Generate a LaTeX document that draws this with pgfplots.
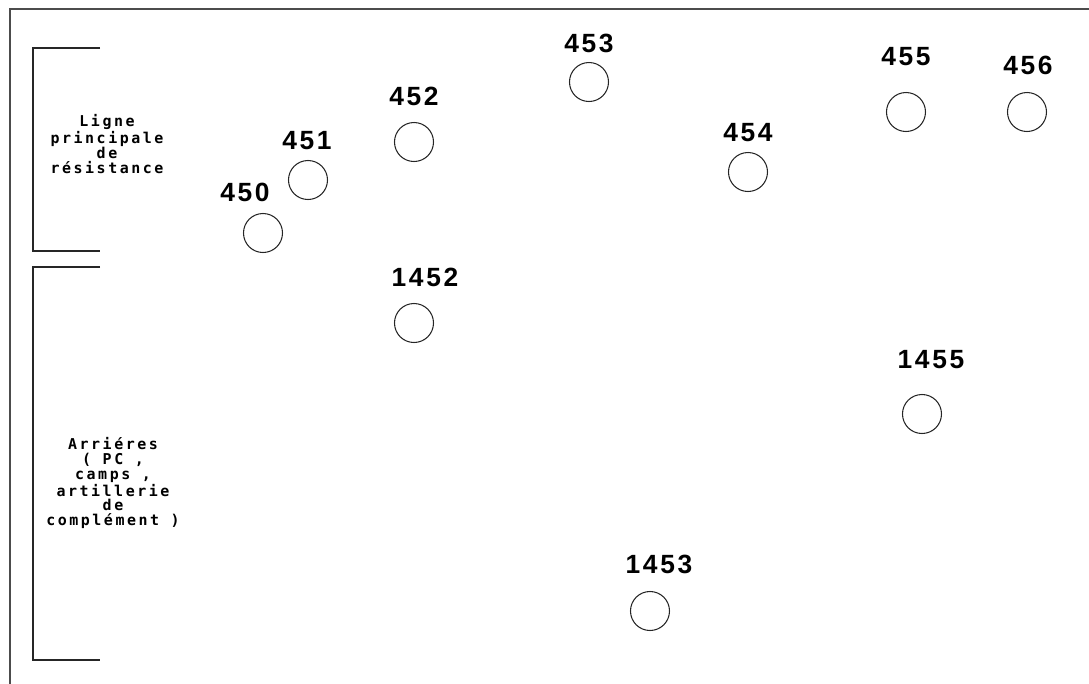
\documentclass[border=0pt]{standalone}
\usepackage{pgfplots}
\pgfplotsset{compat=1.18}
\usepackage{pgfplotstable}
\usepackage{fontspec}
\setmainfont{Liberation Sans}
\newfontfamily\numfont[LetterSpace=10]{Liberation Sans}
\newfontfamily\monofont[LetterSpace=17]{DejaVu Sans Mono}

\pgfplotstableread{
x y
263 233
308 180
414 142
589 82
748 172
906 112
1027 112
414 323
650 611
922 414
}\circles

\pgfplotstableread{
x y label
245 192 450
307 141 451
414 96 452
589 43 453
748 133 454
906 57 455
1028 65 456
425 277 1452
659 564 1453
931 360 1455
}\labels

\begin{document}
\begin{tikzpicture}
\begin{axis}[
  at={(0,0)}, anchor=south west,
  scale only axis, width=21.78cm, height=13.68cm,
  xmin=0, xmax=1089, ymin=0, ymax=684, y dir=reverse,
  hide axis, clip=false,
]
\addplot[only marks, mark=o, mark size=11.1pt, mark options={line width=0.6pt, draw=black!85}] table[x=x,y=y] {\circles};
\addplot[only marks, mark=none, nodes near coords, point meta=explicit symbolic,
  every node near coord/.append style={anchor=center, inner sep=0pt, font=\numfont\bfseries\fontsize{15}{17}\selectfont, text=black}]
  table[x=x,y=y,meta=label] {\labels};
% frame
\draw[black!70, line width=0.6pt] (axis cs:10,684) -- (axis cs:10,9) -- (axis cs:1089,9);
% brackets
\draw[black!85, line width=0.6pt] (axis cs:100,48) -- (axis cs:33,48) -- (axis cs:33,251) -- (axis cs:100,251);
\draw[black!85, line width=0.6pt] (axis cs:100,267) -- (axis cs:33,267) -- (axis cs:33,660) -- (axis cs:100,660);
\node[align=center, inner sep=0pt, font=\monofont\bfseries\fontsize{8.5}{8.5}\selectfont] at (axis cs:107,144) {Ligne\\principale\\de\\résistance};
\node[align=center, inner sep=0pt, font=\monofont\bfseries\fontsize{8.5}{8.5}\selectfont] at (axis cs:113,483) {Arriéres\\( PC ,\\camps ,\\artillerie\\de\\complément )};
\end{axis}
\pgfresetboundingbox
\path (0,0) rectangle (21.78cm,13.68cm);
\end{tikzpicture}
\end{document}
